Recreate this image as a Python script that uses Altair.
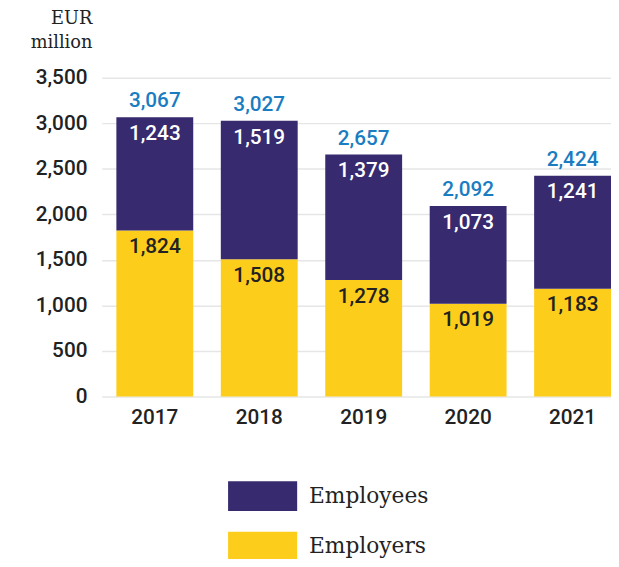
import altair as alt
import pandas as pd

years = ["2017", "2018", "2019", "2020", "2021"]
employers = [1824, 1508, 1278, 1019, 1183]
employees = [1243, 1519, 1379, 1073, 1241]
totals = [3067, 3027, 2657, 2092, 2424]
series = ["Employees", "Employers"]
colors = ["#372a6e", "#fdcd1c"]
y_ticks = [0, 500, 1000, 1500, 2000, 2500, 3000, 3500]

rows = []
for yr, er, ee in zip(years, employers, employees):
    rows.append({"year": yr, "group": "Employers", "value": er, "y0": 0, "y1": er, "order": 0})
    rows.append({"year": yr, "group": "Employees", "value": ee, "y0": er, "y1": er + ee, "order": 1})
df = pd.DataFrame(rows)
tot = pd.DataFrame({"year": years, "total": totals})

FONT_NUM = "Roboto"
FONT_SERIF = "DejaVu Serif"

x = alt.X("year:N", title=None,
          scale=alt.Scale(paddingInner=0.264, paddingOuter=0.07, align=1),
          axis=alt.Axis(labelAngle=0, labelFont=FONT_NUM, labelFontSize=21, labelFontWeight=500,
                        labelColor="#222", labelPadding=10, ticks=False, domain=False))

yaxis = alt.Axis(values=y_ticks, labelExpr="format(datum.value, ',')", title=["EUR", "million"],
                 titleAngle=0, titleAlign="right", titleBaseline="top",
                 titleX=-10, titleY=-69, titleFont=FONT_SERIF, titleFontSize=18,
                 titleFontWeight="normal", titleColor="#222", titleLineHeight=24,
                 labelFont=FONT_NUM, labelFontSize=21, labelFontWeight=500,
                 labelColor="#222", labelPadding=15, ticks=False, domain=False,
                 grid=True, gridColor="#e6e6e6", gridWidth=1.5)
yscale = alt.Scale(domain=[0, 3500], nice=False)

bars = alt.Chart(df).mark_bar().encode(
    x=x,
    y=alt.Y("y1:Q", scale=yscale, axis=yaxis),
    y2="y0:Q",
    color=alt.Color("group:N", scale=alt.Scale(domain=series, range=colors),
                    legend=alt.Legend(title=None, orient="none", legendX=128, legendY=389,
                                      symbolType="M-1,-0.43L1,-0.43L1,0.43L-1,0.43Z",
                                      symbolSize=4900, symbolStrokeWidth=0, symbolOpacity=1,
                                      labelFont=FONT_SERIF, labelFontSize=22, labelColor="#222",
                                      labelOffset=12, rowPadding=-5)),
    order="order:Q",
)

seg_labels = alt.Chart(df).mark_text(font=FONT_NUM, fontSize=21, fontWeight=500,
                                     baseline="middle", dy=17).encode(
    x=x,
    y=alt.Y("y1:Q", scale=yscale, axis=yaxis),
    text=alt.Text("value:Q", format=","),
    color=alt.Color("group:N", scale=alt.Scale(domain=series, range=["#ffffff", "#222222"]),
                    legend=None),
)

tot_labels = alt.Chart(tot).mark_text(font=FONT_NUM, fontSize=21, fontWeight=500,
                                      baseline="middle", dy=-16, color="#1a7cc1").encode(
    x=x,
    y=alt.Y("total:Q", scale=yscale, axis=yaxis),
    text=alt.Text("total:Q", format=","),
)

chart = alt.layer(bars, seg_labels, tot_labels).resolve_scale(color="independent").properties(
    width=516, height=323,
    autosize=alt.AutoSizeParams(type="none"),
    padding={"left": 95, "top": 67, "right": 0, "bottom": 161},
).configure_view(stroke=None)

chart.save("out.html", embed_options={"renderer": "svg", "actions": False})
